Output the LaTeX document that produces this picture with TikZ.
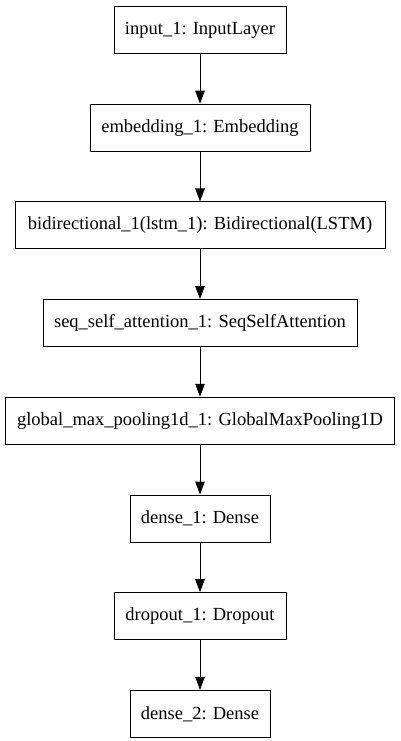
\documentclass[tikz,border=0pt]{standalone}
\usepackage{fontspec}
\setmainfont{Liberation Serif}
\usetikzlibrary{positioning, arrows.meta}

\begin{document}
\begin{tikzpicture}[
    x=1pt, y=1pt,
    layer/.style={draw, line width=1pt, minimum height=47pt, inner xsep=4pt,
        font=\fontsize{18.5}{21}\selectfont},
    flow/.style={-{Triangle[length=13pt, width=9.5pt]}, line width=1pt},
    node distance=49.7pt
]
    \useasboundingbox (0,0) rectangle (400,-741);

    \node[layer, minimum width=172pt] (input) at (200,-30) {input\_1: InputLayer};
    \node[layer, minimum width=220pt, below=of input] (embed) {embedding\_1: Embedding};
    \node[layer, minimum width=370pt, below=of embed] (bidir) {bidirectional\_1(lstm\_1): Bidirectional(LSTM)};
    \node[layer, minimum width=314pt, below=of bidir] (attn) {seq\_self\_attention\_1: SeqSelfAttention};
    \node[layer, minimum width=389pt, below=of attn] (pool) {global\_max\_pooling1d\_1: GlobalMaxPooling1D};
    \node[layer, minimum width=140pt, below=of pool] (dense1) {dense\_1: Dense};
    \node[layer, minimum width=172pt, below=of dense1] (drop) {dropout\_1: Dropout};
    \node[layer, minimum width=140pt, below=of drop] (dense2) {dense\_2: Dense};

    \draw[flow] (input) -- (embed);
    \draw[flow] (embed) -- (bidir);
    \draw[flow] (bidir) -- (attn);
    \draw[flow] (attn) -- (pool);
    \draw[flow] (pool) -- (dense1);
    \draw[flow] (dense1) -- (drop);
    \draw[flow] (drop) -- (dense2);
\end{tikzpicture}
\end{document}
